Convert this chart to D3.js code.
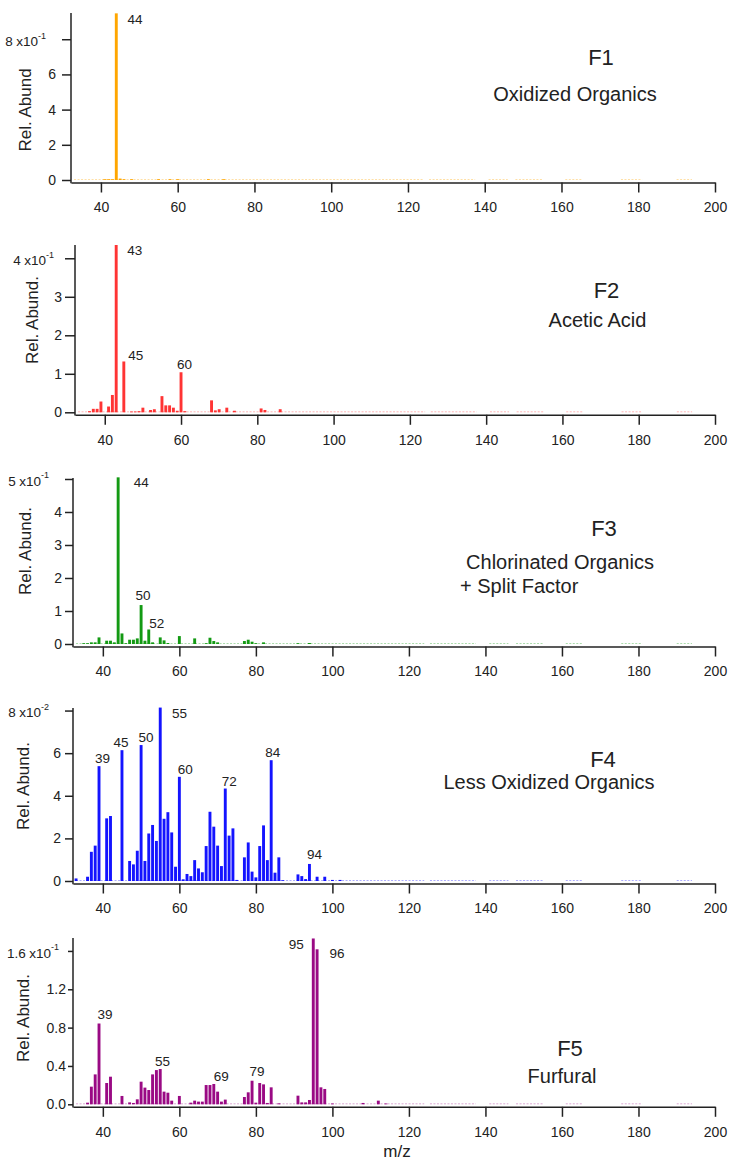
<!DOCTYPE html>
<html><head><meta charset="utf-8">
<script src="https://cdn.jsdelivr.net/npm/d3@7"></script>
<style>
body{margin:0;background:#fff}
svg{display:block}
text{font-family:"Liberation Sans",Arial,Helvetica,sans-serif;fill:#222}
</style>
</head><body>
<svg id="c" width="730" height="1162"></svg>
<script>
// ---------------- DATA ----------------
const xDomain = [32.2, 200];
const xTicks = [40, 60, 80, 100, 120, 140, 160, 180, 200];

// F1 Oxidized Organics
const f1MZ  = [41, 42, 43, 44, 45, 46, 48, 55, 58, 60, 68, 72];
const f1Val = [0.002, 0.003, 0.004, 0.947, 0.008, 0.003, 0.002, 0.002, 0.002, 0.002, 0.002, 0.001];
const f1Ticks = [0, 0.2, 0.4, 0.6, 0.8];
const f1TickLabels = ["0", "2", "4", "6", "8"];
const f1Peaks = [44];

// F2 Acetic Acid
const f2MZ  = [36, 37, 38, 39, 41, 42, 43, 45, 47, 48, 49, 50, 52, 53, 55, 56, 57, 58, 59, 60, 61, 68, 69, 70, 72, 74, 81, 82, 86];
const f2Val = [0.003, 0.009, 0.009, 0.028, 0.015, 0.045, 0.4345, 0.132, 0.002, 0.002, 0.003, 0.012, 0.006, 0.008, 0.042, 0.018, 0.018, 0.012, 0.004, 0.104, 0.003, 0.031, 0.005, 0.008, 0.012, 0.004, 0.010, 0.006, 0.008];
const f2Ticks = [0, 0.1, 0.2, 0.3, 0.4];
const f2TickLabels = ["0", "1", "2", "3", "4"];
const f2Peaks = [43, 45, 60];

// F3 Chlorinated Organics + Split Factor
const f3MZ  = [35, 36, 37, 38, 39, 41, 42, 43, 44, 45, 46, 47, 48, 49, 50, 51, 52, 53, 55, 56, 57, 60, 64, 67, 68, 69, 70, 77, 78, 79, 80, 82, 91, 94];
const f3Val = [0.002, 0.002, 0.005, 0.005, 0.020, 0.010, 0.010, 0.005, 0.505, 0.032, 0.002, 0.013, 0.013, 0.017, 0.118, 0.010, 0.044, 0.005, 0.020, 0.011, 0.003, 0.024, 0.017, 0.002, 0.019, 0.009, 0.005, 0.009, 0.013, 0.007, 0.002, 0.005, 0.002, 0.003];
const f3Ticks = [0, 0.1, 0.2, 0.3, 0.4, 0.5];
const f3TickLabels = ["0", "1", "2", "3", "4", "5"];
const f3Peaks = [44, 50, 52];

// F4 Less Oxidized Organics
const f4MZ  = [33, 36, 37, 38, 39, 41, 42, 45, 47, 48, 49, 50, 51, 52, 53, 54, 55, 56, 57, 58, 59, 60, 61, 62, 63, 64, 65, 66, 67, 68, 69, 70, 71, 72, 73, 74, 75, 77, 78, 79, 80, 81, 82, 83, 84, 85, 86, 87, 91, 92, 93, 94, 96, 98, 100, 102];
const f4Val = [0.0012, 0.002, 0.0137, 0.0166, 0.0539, 0.0294, 0.0305, 0.0614, 0.0094, 0.0078, 0.0142, 0.0638, 0.0094, 0.0223, 0.0263, 0.0188, 0.0814, 0.0292, 0.0323, 0.0228, 0.0067, 0.0489, 0.0008, 0.0033, 0.0023, 0.0098, 0.0059, 0.0041, 0.0164, 0.0325, 0.0255, 0.0166, 0.0070, 0.0434, 0.0213, 0.0247, 0.0005, 0.0111, 0.0181, 0.0044, 0.0017, 0.0164, 0.0261, 0.0098, 0.0567, 0.0039, 0.0111, 0.0003, 0.0031, 0.0023, 0.0009, 0.0080, 0.0020, 0.0020, 0.0005, 0.0005];
const f4Ticks = [0, 0.02, 0.04, 0.06, 0.08];
const f4TickLabels = ["0", "2", "4", "6", "8"];
const f4Peaks = [39, 45, 50, 55, 60, 72, 84, 94];

// F5 Furfural
const f5MZ  = [36, 37, 38, 39, 41, 42, 45, 47, 48, 49, 50, 51, 52, 53, 54, 55, 56, 57, 58, 60, 63, 64, 65, 66, 67, 68, 69, 70, 71, 72, 77, 78, 79, 80, 81, 82, 83, 84, 86, 91, 92, 93, 94, 95, 96, 97, 98, 100, 108, 112, 114];
const f5Val = [0.0017, 0.0184, 0.0312, 0.0843, 0.0222, 0.0288, 0.0087, 0.0020, 0.0014, 0.0052, 0.0236, 0.0174, 0.0149, 0.0312, 0.0357, 0.0368, 0.0132, 0.0121, 0.0038, 0.0087, 0.0017, 0.0038, 0.0028, 0.0028, 0.0201, 0.0201, 0.0212, 0.0132, 0.0028, 0.0049, 0.0076, 0.0125, 0.0246, 0.0017, 0.0222, 0.0208, 0.0014, 0.0177, 0.0010, 0.0090, 0.0020, 0.0020, 0.0045, 0.1730, 0.1617, 0.0177, 0.0160, 0.0007, 0.0014, 0.0038, 0.0007];
const f5Ticks = [0, 0.04, 0.08, 0.12, 0.16];
const f5TickLabels = ["0.0", "0.4", "0.8", "1.2", "1.6"];
const f5Peaks = [39, 55, 69, 79, 95, 96];

// m/z ranges where the (near-zero) baseline of each spectrum is drawn
const baselineRanges = [[33, 124], [125.5, 137.5], [141, 146], [148, 155], [161, 165.5], [175.5, 181], [190, 194]];

// ---------------- LAYOUT ----------------
const panels = [
  {mz: f1MZ, val: f1Val, ticks: f1Ticks, tickLabels: f1TickLabels, exp: "-1", peaks: f1Peaks,
   color: "#ffa600", left: 71, zero: 180, top: 13, ymax: 0.949, tickLen: 9, tickPad: 6, expEnd: 46,
   ylabel: "Rel. Abund", ylx: 25, yly: 110,
   peakOff: {44: [18.7, 10.5]},
   titles: [{t: "F1", x: 601, y: 65, s: 22, a: "middle"}, {t: "Oxidized Organics", x: 575, y: 100.5, s: 20, a: "middle"}]},
  {mz: f2MZ, val: f2Val, ticks: f2Ticks, tickLabels: f2TickLabels, exp: "-1", peaks: f2Peaks,
   color: "#ff3434", left: 75, zero: 412.3, top: 245, ymax: 0.4345, tickLen: 10, tickPad: 3, expEnd: 54,
   ylabel: "Rel. Abund.", ylx: 32, yly: 320,
   peakOff: {43: [18.6, 10], 45: [12, -1.5], 60: [3.5, -3]},
   titles: [{t: "F2", x: 606.5, y: 297.5, s: 22, a: "middle"}, {t: "Acetic Acid", x: 597.5, y: 327.3, s: 20, a: "middle"}]},
  {mz: f3MZ, val: f3Val, ticks: f3Ticks, tickLabels: f3TickLabels, exp: "-1", peaks: f3Peaks,
   color: "#139a13", left: 73, zero: 644, top: 478, ymax: 0.503, tickLen: 8, tickPad: 3, expEnd: 49,
   ylabel: "Rel. Abund.", ylx: 25, yly: 551,
   peakOff: {44: [23, 9.5], 50: [2, -5.5], 52: [8, -1]},
   titles: [{t: "F3", x: 604, y: 536, s: 22, a: "middle"}, {t: "Chlorinated Organics", x: 560, y: 569.3, s: 20, a: "middle"}, {t: "+ Split Factor", x: 460, y: 592.7, s: 20, a: "start"}]},
  {mz: f4MZ, val: f4Val, ticks: f4Ticks, tickLabels: f4TickLabels, exp: "-2", peaks: f4Peaks,
   color: "#1414ff", left: 73, zero: 881, top: 708, ymax: 0.0812, tickLen: 8, tickPad: 4, expEnd: 49,
   ylabel: "Rel. Abund.", ylx: 23, yly: 786,
   peakOff: {39: [3.5, -3.4], 45: [-1, -2.7], 50: [5, -3.3], 55: [19.4, 10], 60: [6, -3], 72: [4, -3], 84: [1.5, -3], 94: [5, -4.5]},
   titles: [{t: "F4", x: 603, y: 766.7, s: 22, a: "middle"}, {t: "Less Oxidized Organics", x: 549, y: 789.3, s: 20, a: "middle"}]},
  {mz: f5MZ, val: f5Val, ticks: f5Ticks, tickLabels: f5TickLabels, exp: "-1", peaks: f5Peaks,
   color: "#9a0a84", left: 73, zero: 1104.3, top: 938, ymax: 0.1735, tickLen: 5, tickPad: 2, expEnd: 59,
   ylabel: "Rel. Abund.", ylx: 23, yly: 1018,
   peakOff: {39: [6, -4], 55: [2.4, -3.5], 69: [7.4, -3.4], 79: [5, -4.5], 95: [-17, 11], 96: [20, 9]},
   titles: [{t: "F5", x: 570, y: 1056, s: 22, a: "middle"}, {t: "Furfural", x: 562, y: 1083, s: 20, a: "middle"}]}
];

const right = 715;
const svg = d3.select("#c");
const axisColor = "#222";
const tickFont = 14;

panels.forEach(p => {
  const x = d3.scaleLinear().domain(xDomain).range([p.left, right]);
  const y = d3.scaleLinear().domain([0, p.ymax]).range([p.zero, p.top]);
  const g = svg.append("g");
  const axisY = p.zero + 2.5;
  const bw = 2.9;

  // faint baseline
  baselineRanges.forEach(r => {
    g.append("line")
      .attr("x1", x(Math.max(r[0], xDomain[0]))).attr("x2", x(r[1]))
      .attr("y1", p.zero - 0.5).attr("y2", p.zero - 0.5)
      .attr("stroke", p.color).attr("stroke-opacity", 0.35)
      .attr("stroke-width", 1).attr("stroke-dasharray", "2,1.5");
  });

  // bars
  const data = p.mz.map((m, i) => ({m: m, v: p.val[i]}));
  g.selectAll("rect.bar").data(data).join("rect")
    .attr("class", "bar")
    .attr("x", d => x(d.m) - bw / 2)
    .attr("y", d => Math.min(y(d.v), p.zero - 0.8))
    .attr("width", bw)
    .attr("height", d => Math.max(0.8, p.zero - y(d.v)))
    .attr("fill", p.color);

  // peak labels
  p.peaks.forEach(m => {
    const i = p.mz.indexOf(m);
    const off = p.peakOff[m];
    g.append("text")
      .attr("x", x(m) + off[0]).attr("y", y(p.val[i]) + off[1])
      .attr("text-anchor", "middle").attr("font-size", 13.5)
      .text(m);
  });

  // x axis
  const xa = g.append("g").attr("transform", `translate(0,${axisY})`)
    .call(d3.axisBottom(x).tickValues(xTicks).tickSize(10).tickSizeOuter(0).tickPadding(10));
  xa.select(".domain").attr("stroke", axisColor).attr("stroke-width", 1.5);
  xa.selectAll(".tick line").attr("stroke", axisColor).attr("stroke-width", 1.5);
  xa.selectAll(".tick text").attr("font-size", tickFont).attr("fill", "#222")
    .attr("font-family", "Liberation Sans, Arial, sans-serif");

  // y axis
  const ya = g.append("g").attr("transform", `translate(${p.left},0)`)
    .call(d3.axisLeft(y).tickValues(p.ticks).tickSize(p.tickLen).tickSizeOuter(0).tickPadding(p.tickPad)
      .tickFormat((d, i) => p.tickLabels[i]));
  ya.select(".domain").remove();
  ya.selectAll(".tick line").attr("stroke", axisColor).attr("stroke-width", 1.5);
  ya.selectAll(".tick text").attr("font-size", tickFont).attr("fill", "#222")
    .attr("font-family", "Liberation Sans, Arial, sans-serif");
  // top label with exponent
  const last = ya.selectAll(".tick text").filter((d, i, n) => i === n.length - 1);
  const lab = p.tickLabels[p.tickLabels.length - 1];
  last.text(null).attr("x", p.expEnd - p.left).attr("font-size", 13.5).attr("dy", "0.45em");
  last.append("tspan").text(lab);
  last.append("tspan").attr("dx", 3.5).text("x10");
  last.append("tspan").attr("font-size", 9).attr("dy", "-0.8em").text(p.exp);

  g.append("line")
    .attr("x1", p.left).attr("x2", p.left)
    .attr("y1", p.top).attr("y2", axisY + 0.75)
    .attr("stroke", axisColor).attr("stroke-width", 1.5);

  // y axis title
  g.append("text")
    .attr("transform", `translate(${p.ylx},${p.yly}) rotate(-90)`)
    .attr("text-anchor", "middle").attr("dominant-baseline", "central")
    .attr("font-size", 17)
    .text(p.ylabel);

  // panel titles
  p.titles.forEach(t => {
    g.append("text").attr("x", t.x).attr("y", t.y)
      .attr("text-anchor", t.a).attr("font-size", t.s).text(t.t);
  });
});

svg.append("text").attr("x", 397).attr("y", 1157)
  .attr("text-anchor", "middle").attr("font-size", 17).text("m/z");
</script>
</body></html>
